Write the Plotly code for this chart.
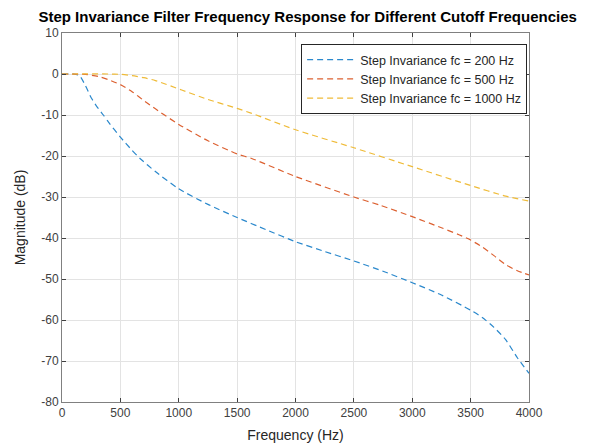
import plotly.graph_objects as go

# Data
freq_200 = [0, 100, 150, 200, 250, 300, 354, 400, 500, 600, 668, 800, 1000, 1250, 1500, 1750, 2000, 2250, 2500, 2750, 3000, 3250, 3500, 3600, 3700, 3800, 3900, 4000]
mag_200 = [0, 0, -0.4, -2.8, -5.8, -8, -10, -11.8, -15.4, -18.6, -20.6, -23.8, -28, -31.8, -35, -38, -40.9, -43.3, -45.6, -48.1, -50.9, -53.9, -57.6, -59.4, -61.8, -64.8, -69.2, -73]

freq_500 = [0, 200, 311, 400, 500, 600, 711, 800, 1000, 1250, 1500, 1625, 2000, 2500, 2724, 3000, 3250, 3400, 3500, 3600, 3700, 3800, 3900, 4000]
mag_500 = [0, -0.1, -0.6, -1.4, -2.6, -4.3, -6.7, -8.5, -12.3, -16.3, -19.5, -20.6, -25, -30, -32, -34.8, -37.5, -39.2, -40.5, -42.2, -44.3, -46.5, -48, -49]

freq_1000 = [0, 400, 511, 600, 700, 800, 1025, 1250, 1500, 1625, 2000, 2500, 3000, 3500, 3800, 4000]
mag_1000 = [0, 0, -0.1, -0.4, -0.9, -1.6, -3.9, -6.2, -8.4, -9.6, -13.6, -18, -22.6, -27.2, -29.8, -31]

series_names = ["Step Invariance fc = 200 Hz", "Step Invariance fc = 500 Hz", "Step Invariance fc = 1000 Hz"]
colors = ["#2a88cc", "#dc6030", "#efbb38"]

x_ticks = list(range(0, 4001, 500))
y_ticks = list(range(-80, 11, 10))
y_tick_text = [str(v) for v in y_ticks]

FONT = "Liberation Sans, Arial"

fig = go.Figure()
for fx, my, name, c in zip([freq_200, freq_500, freq_1000], [mag_200, mag_500, mag_1000], series_names, colors):
    fig.add_trace(go.Scatter(x=fx, y=my, mode="lines", name=name,
                             line=dict(color=c, width=1.2, dash="6px,4px", shape="spline", smoothing=0.6)))

axis_common = dict(showgrid=True, gridcolor="#e3e3e3", gridwidth=1, zeroline=False,
                   showline=True, linecolor="#808080", linewidth=1, mirror="ticks",
                   ticks="inside", ticklen=4, tickcolor="#404040", automargin=False,
                   tickfont=dict(family=FONT, size=12, color="#404040"))

fig.update_xaxes(range=[0, 4000], tickvals=x_ticks,
                 title=dict(text="Frequency (Hz)", font=dict(family=FONT, size=14, color="#262626"), standoff=10),
                 **axis_common)
fig.update_yaxes(range=[-80, 10], tickvals=y_ticks, ticktext=y_tick_text,
                 title=dict(text="Magnitude (dB)", font=dict(family=FONT, size=14, color="#262626"), standoff=12),
                 **axis_common)

fig.update_layout(
    width=589, height=447,
    margin=dict(l=62, r=60, t=33, b=45, autoexpand=False),
    paper_bgcolor="white", plot_bgcolor="white",
    title=dict(text="<b>Step Invariance Filter Frequency Response for Different Cutoff Frequencies</b>",
               xref="paper", x=0.526, xanchor="center", y=0.962, yanchor="middle",
               font=dict(family=FONT, size=15, color="black")),
    legend=dict(x=0.996, y=0.97, xanchor="right", yanchor="top",
                bgcolor="white", bordercolor="#262626", borderwidth=1,
                font=dict(family=FONT, size=12.5, color="#262626"),
                tracegroupgap=0, itemwidth=48),
    showlegend=True,
)

fig.write_html("out.html")
